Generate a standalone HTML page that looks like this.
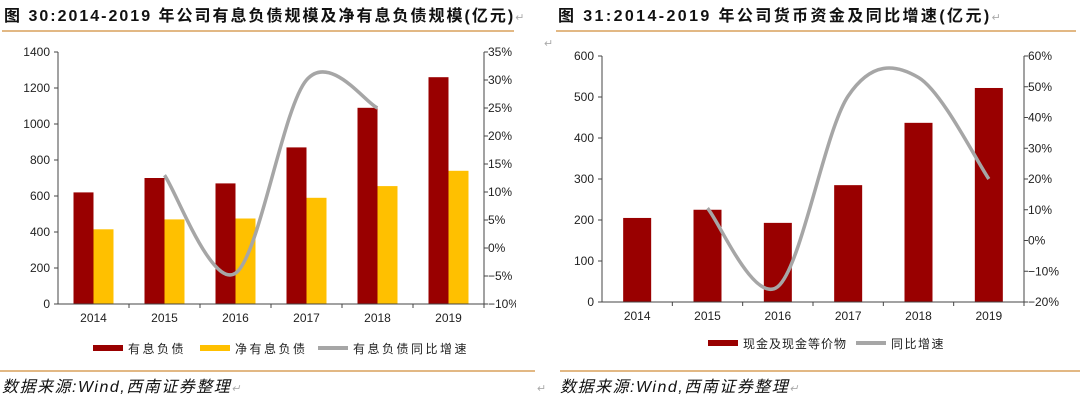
<!DOCTYPE html>
<html><head><meta charset="utf-8"><style>
body{margin:0;background:#fff;width:1080px;height:401px;overflow:hidden}
svg{display:block;font-family:"Liberation Sans","Noto Sans CJK SC",sans-serif}
</style></head><body>
<svg id="s" width="1080" height="401" xmlns="http://www.w3.org/2000/svg">
<text x="4" y="21" font-size="16" font-weight="bold" fill="#111" letter-spacing="2">图 30:2014-2019 年公司有息负债规模及净有息负债规模(亿元)<tspan fill="#aaa" font-weight="normal" font-size="11">↵</tspan></text>
<text x="558" y="21" font-size="16" font-weight="bold" fill="#111" letter-spacing="2.4">图 31:2014-2019 年公司货币资金及同比增速(亿元)<tspan fill="#aaa" font-weight="normal" font-size="11">↵</tspan></text>
<line x1="2" y1="31" x2="514" y2="31" stroke="#d9a05b" stroke-width="1.5"/>
<line x1="556" y1="31" x2="1076" y2="31" stroke="#d9a05b" stroke-width="1.5"/>
<line x1="0" y1="371" x2="535" y2="371" stroke="#d9a05b" stroke-width="1.5"/>
<line x1="560" y1="371" x2="1080" y2="371" stroke="#d9a05b" stroke-width="1.5"/>
<text x="544" y="47" font-size="11" fill="#aaa">↵</text>
<text x="2" y="392" font-size="16" font-style="italic" fill="#111" letter-spacing="1.5">数据来源:Wind,西南证券整理<tspan fill="#aaa" font-size="11">↵</tspan></text>
<text x="537" y="392" font-size="11" fill="#aaa">↵</text>
<text x="560" y="392" font-size="16" font-style="italic" fill="#111" letter-spacing="1.5">数据来源:Wind,西南证券整理<tspan fill="#aaa" font-size="11">↵</tspan></text>
<defs><clipPath id="c1"><rect x="0" y="0" width="516" height="401"/></clipPath><clipPath id="c2"><rect x="540" y="0" width="540" height="401"/></clipPath></defs>
<g id="L" clip-path="url(#c1)"></g>
<g id="R" clip-path="url(#c2)"></g>
</svg>
<script>
const yearsL=["2014","2015","2016","2017","2018","2019"];
const debtL=[620,700,670,870,1090,1260];
const netDebtL=[415,470,475,590,655,740];
const growthL=[null,13,-4.5,30,25,null];
const leftTicks=[0,200,400,600,800,1000,1200,1400];
const rightTicksL=[-10,-5,0,5,10,15,20,25,30,35];

const yearsR=["2014","2015","2016","2017","2018","2019"];
const cashR=[205,225,193,285,437,522];
const growthR=[null,10.5,-15,47,53,20];
const leftTicksR=[0,100,200,300,400,500,600];
const rightTicksR=[-20,-10,0,10,20,30,40,50,60];

const NS="http://www.w3.org/2000/svg";
function mk(p,t,a){const e=document.createElementNS(NS,t);for(const k in a)e.setAttribute(k,a[k]);p.appendChild(e);return e;}
function smooth(pts){let d="M"+pts[0][0]+","+pts[0][1];for(let i=0;i<pts.length-1;i++){const p0=pts[i-1]||pts[i],p1=pts[i],p2=pts[i+1],p3=pts[i+2]||p2;const c1=[p1[0]+(p2[0]-p0[0])/6,p1[1]+(p2[1]-p0[1])/6],c2=[p2[0]-(p3[0]-p1[0])/6,p2[1]-(p3[1]-p1[1])/6];d+=" C"+c1+" "+c2+" "+p2;}return d;}
function chart(g,o){
  const {x0,x1,yT,yB,yMax,rMin,rMax,cats,lt,rt}=o;
  const cw=(x1-x0)/cats.length;
  const y=v=>yB-(v/yMax)*(yB-yT);
  const yr=v=>yB-(v-rMin)/(rMax-rMin)*(yB-yT);
  const cx=i=>x0+cw*(i+0.5);
  o.series.forEach((s,si)=>{s.vals.forEach((v,i)=>{
    const r=mk(g,"rect",{x:cx(i)+s.off,y:y(v),width:s.w,height:yB-y(v),fill:s.color});
    
    
  });});
  mk(g,"line",{x1:x0,y1:yT,x2:x0,y2:yB,stroke:"#444","stroke-width":1});
  mk(g,"line",{x1:x1,y1:yT,x2:x1,y2:yB,stroke:"#444","stroke-width":1});
  mk(g,"line",{x1:x0,y1:yB,x2:x1,y2:yB,stroke:"#444","stroke-width":1});
  lt.forEach(v=>{mk(g,"line",{x1:x0-4,y1:y(v),x2:x0,y2:y(v),stroke:"#444"});
    const t=mk(g,"text",{x:x0-8,y:y(v)+4,"font-size":12,"text-anchor":"end",fill:"#222"});t.textContent=v;
    });
  rt.forEach(v=>{mk(g,"line",{x1:x1,y1:yr(v),x2:x1+4,y2:yr(v),stroke:"#444"});
    const t=mk(g,"text",{x:x1+4,y:yr(v)+4,"font-size":12,fill:"#222"});t.textContent=(v<0?"−":"")+Math.abs(v)+"%";
    });
  cats.forEach((c,i)=>{mk(g,"line",{x1:x0+cw*(i+1),y1:yB,x2:x0+cw*(i+1),y2:yB+4,stroke:"#444"});
    const t=mk(g,"text",{x:cx(i),y:yB+18,"font-size":12,"text-anchor":"middle",fill:"#222"});t.textContent=c;
    });
  const pts=[];o.line.forEach((v,i)=>{if(v!==null)pts.push([cx(i),yr(v)]);});
  const p=mk(g,"path",{d:smooth(pts),fill:"none",stroke:"#a6a6a6","stroke-width":3.5});
  
  o.legend.forEach(l=>{
    if(l.line){mk(g,"line",{x1:l.x,y1:l.y,x2:l.x+30,y2:l.y,stroke:l.color,"stroke-width":4});}
    else mk(g,"rect",{x:l.x,y:l.y-3,width:30,height:6,fill:l.color});
    const t=mk(g,"text",{x:l.x+35,y:l.y+5,"font-size":12,"letter-spacing":l.ls,fill:"#222","font-family":"Noto Sans CJK SC, sans-serif"});t.textContent=l.text;
    
  });
}
chart(document.getElementById("L"),{x0:58,x1:484,yT:52,yB:304,yMax:1400,rMin:-10,rMax:35,cats:yearsL,lt:leftTicks,rt:rightTicksL,
  series:[{name:"debt",vals:debtL,off:-20,w:20,color:"#990000"},{name:"net-debt",vals:netDebtL,off:0,w:20,color:"#ffc000"}],
  line:growthL,legend:[{x:93,y:348,color:"#990000",text:"有息负债",ls:2.5},{x:200,y:348,color:"#ffc000",text:"净有息负债",ls:2.5},{x:318,y:348,color:"#a6a6a6",line:1,text:"有息负债同比增速",ls:2.5}]});
chart(document.getElementById("R"),{x0:602,x1:1024,yT:56,yB:302,yMax:600,rMin:-20,rMax:60,cats:yearsR,lt:leftTicksR,rt:rightTicksR,
  series:[{name:"cash",vals:cashR,off:-14,w:28,color:"#990000"}],
  line:growthR,legend:[{x:708,y:343,color:"#990000",text:"现金及现金等价物",ls:1},{x:856,y:343,color:"#a6a6a6",line:1,text:"同比增速",ls:1.5}]});
</script>
</body></html>
